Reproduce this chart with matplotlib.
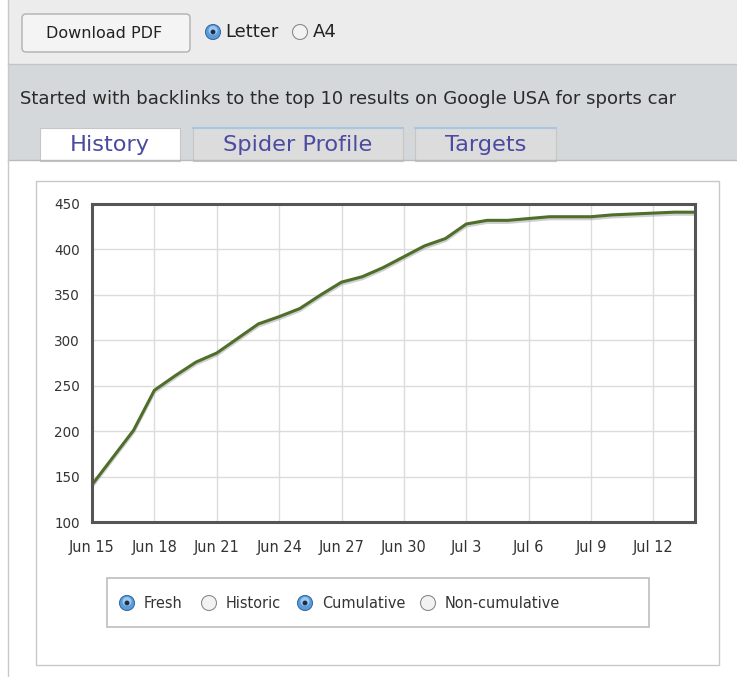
import numpy as np
import matplotlib.pyplot as plt
from matplotlib.patches import Rectangle, FancyBboxPatch, Circle
import matplotlib.patheffects as pe

W, H = 737, 677

# cumulative backlinks, one value per day from Jun 15 to Jul 14
days = np.arange(30)
backlinks = [141, 171, 201, 245, 261, 276, 286, 302, 318, 326,
             335, 350, 364, 370, 380, 392, 404, 412, 428, 432,
             432, 434, 436, 436, 436, 438, 439, 440, 441, 441]
tick_days = [0, 3, 6, 9, 12, 15, 18, 21, 24, 27]
tick_labels = ["Jun 15", "Jun 18", "Jun 21", "Jun 24", "Jun 27",
               "Jun 30", "Jul 3", "Jul 6", "Jul 9", "Jul 12"]
y_ticks = [100, 150, 200, 250, 300, 350, 400, 450]

tab_names = ["History", "Spider Profile", "Targets"]
options = ["Fresh", "Historic", "Cumulative", "Non-cumulative"]
selected = [True, False, True, False]

fig = plt.figure(figsize=(W / 100, H / 100), dpi=100)
fig.patch.set_facecolor("white")

# page background drawn in pixel coordinates (y down)
ui = fig.add_axes([0, 0, 1, 1])
ui.set_xlim(0, W)
ui.set_ylim(H, 0)
ui.axis("off")

def px(v):
    return v * 0.72  # pixel size -> points at 100 dpi

def radio(x, y, on, r=7.5):
    if on:
        ui.add_patch(Circle((x, y), r, facecolor="#5b9bd8", edgecolor="#3a6ea5", lw=0.8))
        ui.add_patch(Circle((x, y - 1.5), r * 0.6, facecolor="#9cc8ef", edgecolor="none"))
        ui.add_patch(Circle((x, y), r * 0.32, facecolor="#1c2c44", edgecolor="none"))
    else:
        ui.add_patch(Circle((x, y), r, facecolor="#f2f2f2", edgecolor="#8c8c8c", lw=0.8))

# toolbar strip
ui.add_patch(Rectangle((8, 0), W - 8, 64, facecolor="#ececec", edgecolor="none"))
ui.plot([8, W], [64, 64], color="#c4c4c4", lw=1)
# grey header area
ui.add_patch(Rectangle((8, 65), W - 8, 95, facecolor="#d4d8da", edgecolor="none"))
ui.plot([8, W], [160, 160], color="#b8babc", lw=1)
ui.plot([8.5, 8.5], [0, H], color="#c8c8c8", lw=1)

# download button and paper size choice
ui.add_patch(FancyBboxPatch((22, 14), 168, 38, boxstyle="round,pad=0,rounding_size=4",
                            facecolor="#f4f4f4", edgecolor="#b0b0b0", lw=1))
ui.text(104, 34, "Download PDF", ha="center", va="center", fontsize=px(16), color="#222222")
radio(213, 32, True)
ui.text(225, 32, "Letter", ha="left", va="center", fontsize=px(18), color="#222222")
radio(300, 32, False)
ui.text(313, 32, "A4", ha="left", va="center", fontsize=px(18), color="#222222")

ui.text(20, 99, "Started with backlinks to the top 10 results on Google USA for sports car",
        ha="left", va="center", fontsize=px(18), color="#2a2a2a")

# tabs
tab_x = [(40, 180), (193, 403), (415, 556)]
for (x0, x1), name, active in zip(tab_x, tab_names, [True, False, False]):
    face = "white" if active else "#dcdcdc"
    ui.add_patch(Rectangle((x0, 128), x1 - x0, 33, facecolor=face, edgecolor="#c6c6c6", lw=0.8))
    if not active:
        ui.plot([x0, x1], [128, 128], color="#a9c6e0", lw=1.5)
    ui.text((x0 + x1) / 2, 145, name, ha="center", va="center", fontsize=px(22.5), color="#4b4ba0")

# chart frame and option box
ui.add_patch(Rectangle((36, 181), 683, 484, facecolor="white", edgecolor="#c8c8c8", lw=1))
ui.add_patch(Rectangle((107, 578), 542, 49, facecolor="white", edgecolor="#bdbdbd", lw=1.2))
opt_x = [127, 209, 305, 428]
for x, name, on in zip(opt_x, options, selected):
    radio(x, 603, on)
    ui.text(x + 17, 604, name, ha="left", va="center", fontsize=px(14.5), color="#333333")

# chart
ax = fig.add_axes([92 / W, (H - 522) / H, 603 / W, 318 / H])
ax.plot(days, backlinks, color="#4f6e2a", lw=2.2, solid_capstyle="round",
        path_effects=[pe.SimpleLineShadow(offset=(0, -1.5), shadow_color="#a0a0a0", alpha=0.5),
                      pe.Normal()])
ax.set_xlim(0, 29)
ax.set_ylim(100, 450)
ax.set_xticks(tick_days)
ax.set_xticklabels(tick_labels)
ax.set_yticks(y_ticks)
ax.grid(True, color="#dcdcdc", lw=1)
ax.set_axisbelow(True)
ax.tick_params(axis="x", length=0, labelsize=px(14.5), labelcolor="#333333", pad=13)
ax.tick_params(axis="y", length=0, labelsize=px(13.5), labelcolor="#333333", pad=8.6)
for s in ax.spines.values():
    s.set_color("#555555")
    s.set_linewidth(2.2)

fig.savefig("out.png", dpi=100)
